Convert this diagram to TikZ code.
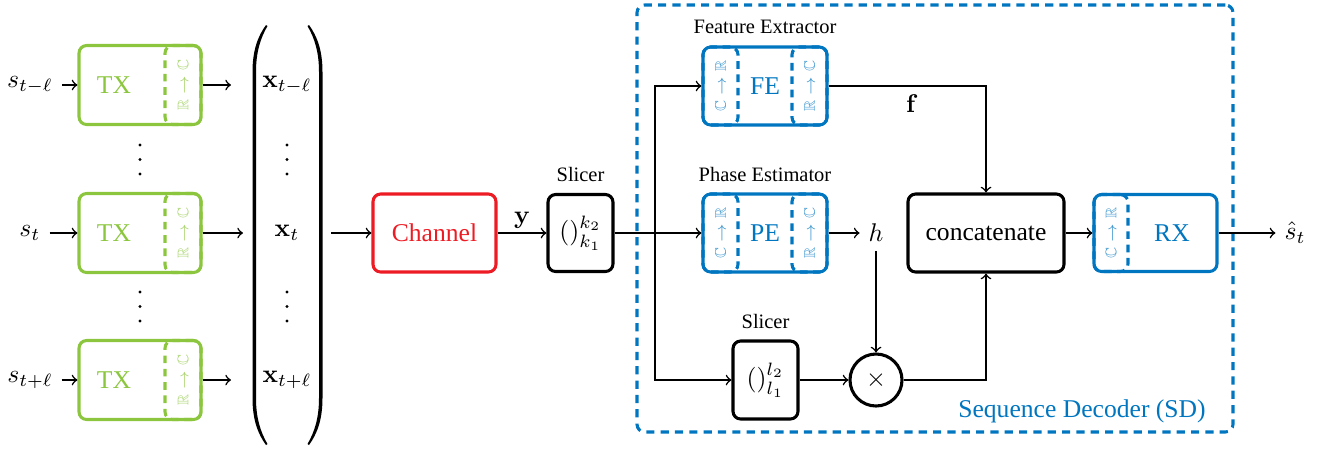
\documentclass[tikz,border=0pt]{standalone}
\usepackage{amsmath,amssymb}
\usepackage[no-math]{fontspec}
\setmainfont{Liberation Serif}
\definecolor{txgreen}{RGB}{140,198,63}
\definecolor{sdblue}{RGB}{0,118,192}
\definecolor{chred}{RGB}{237,28,36}
\def\px{*0.390625pt}
\begin{document}
\begin{tikzpicture}[x=0.390625pt,y=-0.390625pt,
  conn/.style={line width=0.6pt},
  arr/.style={conn,->},
  blk/.style={draw,line width=1.2pt,rounded corners=3pt,minimum height=78\px,inner sep=0pt},
  cvt/.style={blk,dash pattern=on 3pt off 2.2pt},
  cvtxt/.style={rotate=90,font=\fontsize{6}{7}\selectfont},
  lab/.style={font=\footnotesize,anchor=base},
  bigdot/.style={fill}
]
\useasboundingbox (0,0) rectangle (1331,448);

% ---------- transmitters ----------
\foreach \i/\yy/\lbl in {1/85/{s_{t-\ell}},2/233/{s_t},3/380/{s_{t+\ell}}}{
  \node (s\i) at (30,\yy) {$\lbl$};
  \node[blk,draw=txgreen,minimum width=122\px,minimum height=79\px] (tx\i) at (140,\yy) {};
  \node[cvt,draw=txgreen,minimum width=36\px,minimum height=79\px] (tx\i c) at (183,\yy) {};
  \node[text=txgreen] (tx\i t) at (114,\yy) {TX};
  \node[cvtxt,text=txgreen!75] (tx\i ct) at (183,\yy) {$\mathbb{R}\to\mathbb{C}$};
  \draw[arr] (s\i.east) -- (tx\i.west);
}
\coordinate (c1) at (231,85);
\coordinate (c2) at (243,233);
\coordinate (c3) at (231,380);
\draw[arr] (tx1.east) -- (c1);
\draw[arr] (tx2.east) -- (c2);
\draw[arr] (tx3.east) -- (c3);

% vertical dots
\foreach \xx in {140,287}{
  \foreach \yy in {145,159.5,174,292,306.5,321}{
    \fill (\xx,\yy) circle[radius=0.6pt];
  }
}

% ---------- stacked vector ----------
\node (x1) at (287,85) {$\mathbf{x}_{t-\ell}$};
\node (x2) at (287,233) {$\mathbf{x}_t$};
\node (x3) at (287,380) {$\mathbf{x}_{t+\ell}$};
\fill (266,25) .. controls (258,36) and (252.5,50) .. (252.5,72) -- (252.5,398)
  .. controls (252.5,420) and (258,434) .. (266,445) -- (267.5,444)
  .. controls (260.5,432) and (256,418) .. (256,398) -- (256,72)
  .. controls (256,52) and (260.5,38) .. (267.5,26) -- cycle;
\fill (309,25) .. controls (317,36) and (322.5,50) .. (322.5,72) -- (322.5,398)
  .. controls (322.5,420) and (317,434) .. (309,445) -- (307.5,444)
  .. controls (314.5,432) and (319,418) .. (319,398) -- (319,72)
  .. controls (319,52) and (314.5,38) .. (307.5,26) -- cycle;
\coordinate (mo) at (331,233);

% ---------- channel & slicer ----------
\node[blk,draw=chred,text=chred,minimum width=123\px] (chan) at (434.5,233) {Channel};
\draw[arr] (mo) -- (chan.west);
\node[blk,minimum width=65\px,minimum height=77\px] (sl1) at (580.5,233) {$()_{k_1}^{k_2}$};
\node[lab] (sl1lab) at (580.5,181) {Slicer};
\draw[arr] (chan.east) -- node[above,inner sep=1.5pt] (ylab) {$\mathbf{y}$} (sl1.west);

% ---------- sequence decoder ----------
\node[draw=sdblue,line width=1.2pt,dash pattern=on 3.2pt off 2.4pt,rounded corners=3pt,
      minimum width=596\px,minimum height=427\px,inner sep=0pt] (sd) at (935,218.5) {};
\node[text=sdblue,anchor=base] (sdlab) at (1082,417) {Sequence Decoder (SD)};

% FE
\node[blk,draw=sdblue,minimum width=124\px] (fe) at (765,86) {};
\node[cvt,draw=sdblue,minimum width=35\px] (fel) at (720.5,86) {};
\node[cvt,draw=sdblue,minimum width=35\px] (fer) at (809.5,86) {};
\node[text=sdblue] (fet) at (765,86) {FE};
\node[cvtxt,text=sdblue!75] (felt) at (720.5,86) {$\mathbb{C}\to\mathbb{R}$};
\node[cvtxt,text=sdblue!75] (fert) at (809.5,86) {$\mathbb{R}\to\mathbb{C}$};
\node[lab] (felab) at (765,33) {Feature Extractor};

% PE
\node[blk,draw=sdblue,minimum width=124\px] (pe) at (765,233) {};
\node[cvt,draw=sdblue,minimum width=35\px] (pel) at (720.5,233) {};
\node[cvt,draw=sdblue,minimum width=35\px] (per) at (809.5,233) {};
\node[text=sdblue] (pet) at (765,233) {PE};
\node[cvtxt,text=sdblue!75] (pelt) at (720.5,233) {$\mathbb{C}\to\mathbb{R}$};
\node[cvtxt,text=sdblue!75] (pert) at (809.5,233) {$\mathbb{R}\to\mathbb{C}$};
\node[lab] (pelab) at (765,181) {Phase Estimator};

% slicer 2 and multiplier
\node[blk,minimum width=65\px] (sl2) at (765.5,380) {$()_{l_1}^{l_2}$};
\node[lab] (sl2lab) at (765.5,328) {Slicer};
\node[circle,draw,line width=1.2pt,minimum size=52\px,inner sep=0pt] (mul) at (876,380) {$\times$};
\node (h) at (876,233) {$h$};

% concatenate and RX
\node[blk,minimum width=156\px] (cat) at (986,233) {concatenate};
\node[blk,draw=sdblue,minimum width=123\px,minimum height=77\px] (rx) at (1155.5,233) {};
\node[cvt,draw=sdblue,minimum width=34\px,minimum height=77\px] (rxc) at (1111,233) {};
\node[text=sdblue] (rxt) at (1172,233) {RX};
\node[cvtxt,text=sdblue!75] (rxct) at (1111,233) {$\mathbb{C}\to\mathbb{R}$};
\node (shat) at (1295,233) {$\hat{s}_t$};
\node (f) at (912,104) {$\mathbf{f}$};

% connectors
\coordinate (j) at (655,233);
\draw[arr] (sl1.east) -- (pe.west);
\draw[arr] (j) |- (fe.west);
\draw[arr] (j) |- (sl2.west);
\draw[arr] (pe.east) -- (h.west);
\draw[arr] (h.south) -- (mul.north);
\draw[arr] (sl2.east) -- (mul.west);
\draw[arr] (mul.east) -| (cat.south);
\draw[arr] (fe.east) -| (cat.north);
\draw[arr] (cat.east) -- (rx.west);
\draw[arr] (rx.east) -- (shat.west);
\end{tikzpicture}
\end{document}
